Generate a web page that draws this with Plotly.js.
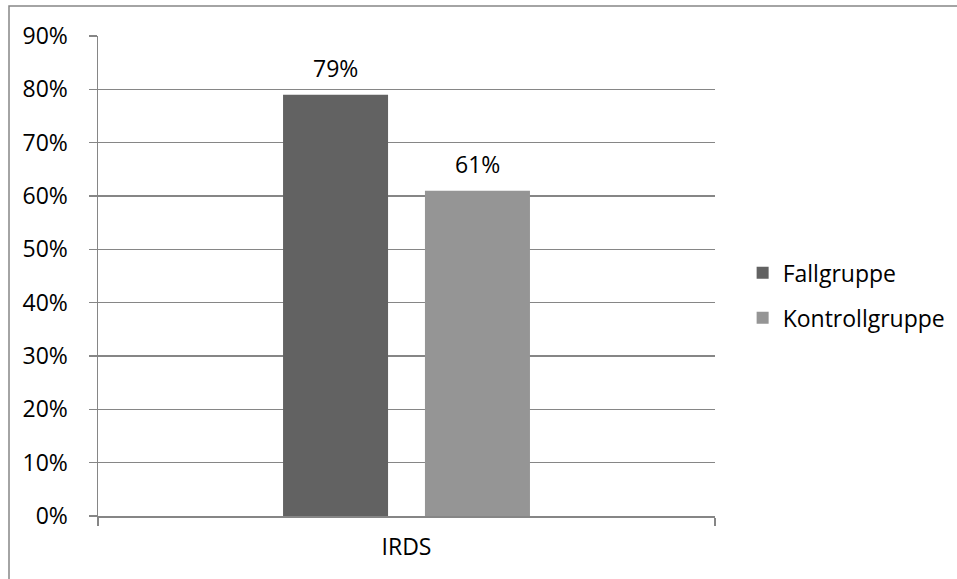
<!DOCTYPE html>
<html>
<head>
<meta charset="utf-8">
<script src="https://cdn.plot.ly/plotly-3.0.1.min.js"></script>
<style>html,body{margin:0;padding:0;background:#fff;}#chart{width:957px;height:579px;}</style>
</head>
<body>
<div id="chart"></div>
<script>
const categories = ["IRDS"];
const seriesNames = ["Fallgruppe", "Kontrollgruppe"];
const fallgruppe = [0.79];
const kontrollgruppe = [0.61];
const yTickVals = [0, 0.1, 0.2, 0.3, 0.4, 0.5, 0.6, 0.7, 0.8, 0.9];
const yTickText = ["0%", "10%", "20%", "30%", "40%", "50%", "60%", "70%", "80%", "90%"];

const FONT = "'Open Sans', Lato, sans-serif";
const FS = 23;
const GRID = "#868686";
const colors = ["#626262", "#959595"];
const seriesValues = [fallgruppe, kontrollgruppe];

const W = 957, H = 579;
const margin = {l: 98, r: 242, t: 36, b: 63, pad: 0, autoexpand: false};
const plotW = W - margin.l - margin.r;
const bargap = 0.54;

const traces = seriesNames.map((name, i) => ({
  type: "bar",
  name: name,
  x: categories,
  y: seriesValues[i],
  marker: {color: colors[i], line: {width: 0}},
  legendgroup: "g" + i,
  hoverinfo: "skip"
}));

const slotW = plotW * (1 - bargap) / seriesNames.length;
const annotations = [];
seriesNames.forEach((name, i) => {
  seriesValues[i].forEach((v, j) => {
    annotations.push({
      x: categories[j], y: v, xref: "x", yref: "y",
      text: Math.round(v * 100) + "%",
      showarrow: false,
      xshift: (i - (seriesNames.length - 1) / 2) * slotW,
      yshift: 27,
      font: {family: FONT, size: FS, color: "#000"}
    });
  });
});

const layout = {
  width: W, height: H,
  margin: margin,
  paper_bgcolor: "#fff",
  plot_bgcolor: "#fff",
  font: {family: FONT, size: FS, color: "#000"},
  barmode: "group",
  bargap: bargap,
  bargroupgap: 0.26,
  showlegend: true,
  legend: {
    xref: "container", yref: "container",
    x: 0.776, xanchor: "left", y: 0.49, yanchor: "middle",
    font: {family: FONT, size: FS, color: "#000"},
    tracegroupgap: 12,
    bgcolor: "rgba(0,0,0,0)"
  },
  xaxis: {
    type: "category",
    showline: true, linecolor: GRID, linewidth: 1.5,
    ticks: "outside", tickson: "boundaries", ticklen: 8, tickcolor: GRID, tickwidth: 1.5,
    showgrid: false, zeroline: false,
    ticklabelstandoff: 10,
    tickfont: {family: FONT, size: FS, color: "#000"}
  },
  yaxis: {
    range: [0, 0.9],
    tickvals: yTickVals, ticktext: yTickText,
    showline: true, linecolor: GRID, linewidth: 1.5,
    ticks: "outside", ticklen: 8, tickcolor: GRID, tickwidth: 1.5,
    showgrid: true, gridcolor: GRID, gridwidth: 1.5,
    zeroline: false,
    ticklabelstandoff: 16,
    tickfont: {family: FONT, size: FS, color: "#000"}
  },
  annotations: annotations,
  shapes: [{
    type: "rect", xref: "paper", yref: "paper",
    x0: (9 - margin.l) / plotW, x1: 2,
    y0: -1, y1: 1 + 30 / (H - margin.t - margin.b),
    line: {color: GRID, width: 1.5}, fillcolor: "rgba(0,0,0,0)", layer: "below"
  }]
};

Plotly.newPlot("chart", traces, layout, {displayModeBar: false, staticPlot: true});
</script>
</body>
</html>
